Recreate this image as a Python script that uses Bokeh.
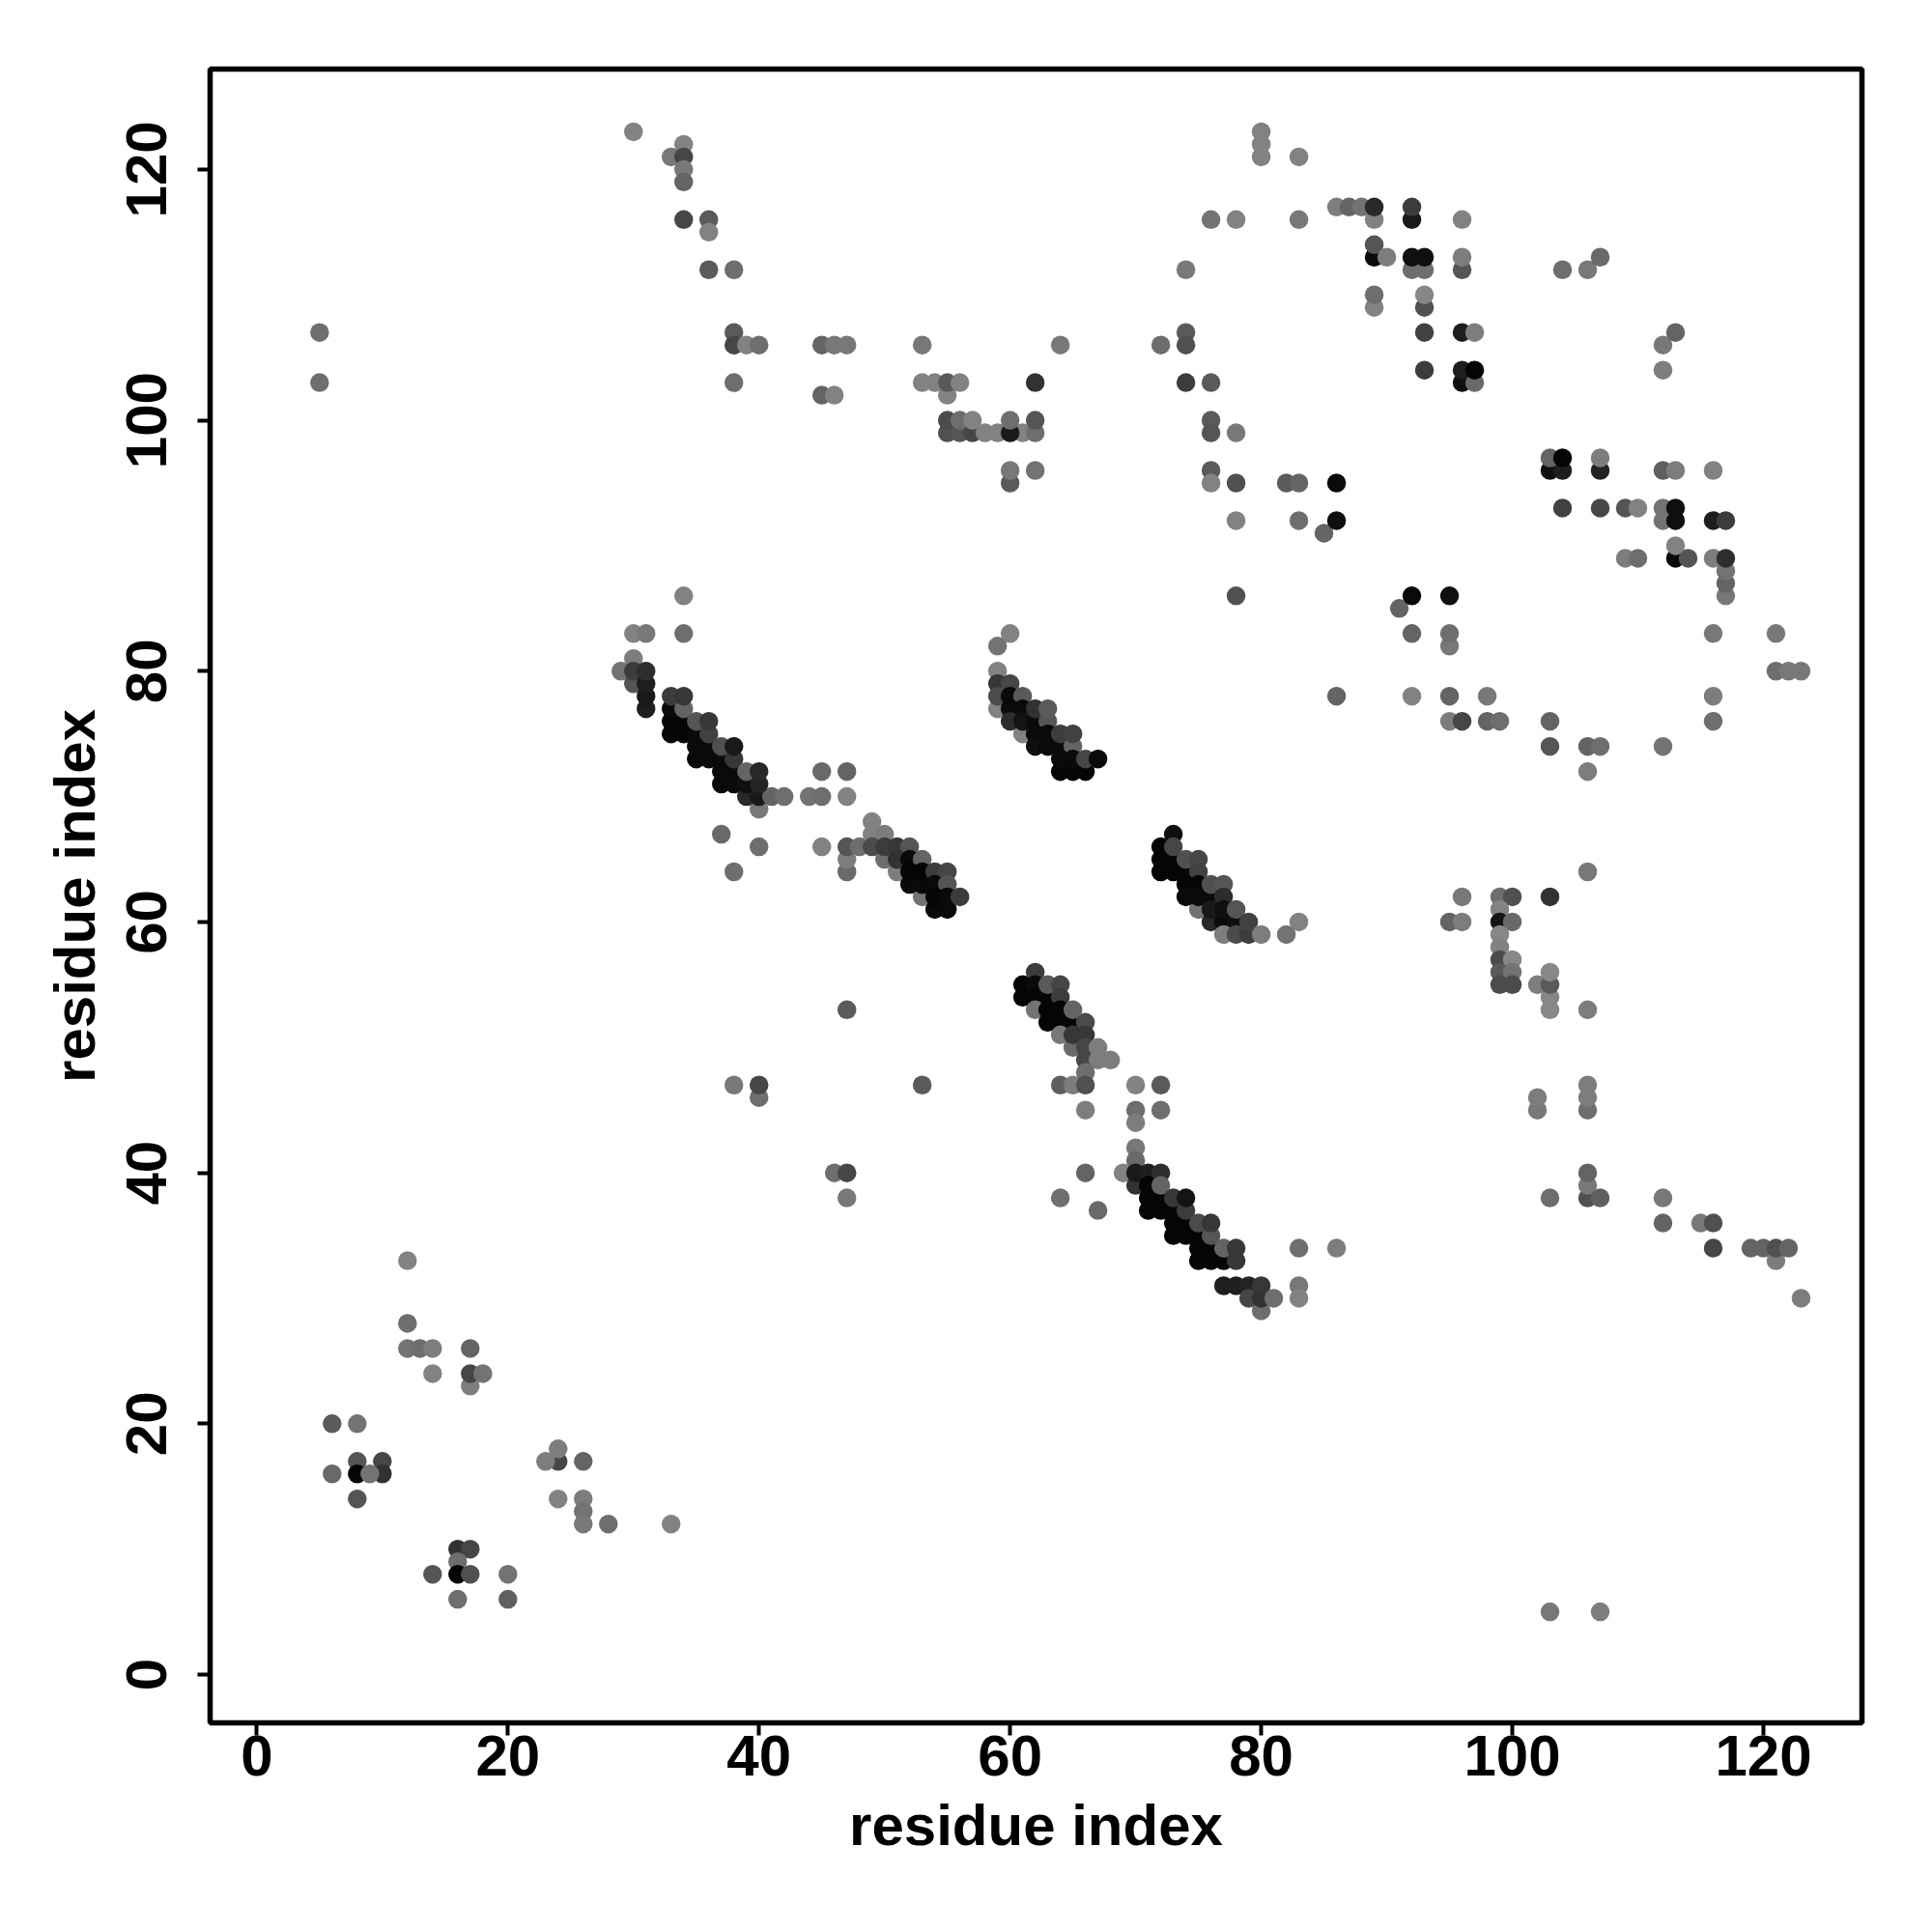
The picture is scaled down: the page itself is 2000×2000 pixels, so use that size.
from bokeh.embed import file_html
from bokeh.resources import INLINE
from bokeh.plotting import figure
from bokeh.models import Range1d, FixedTicker, ColumnDataSource

# contact points: (residue i, residue j, grey level of the mark)
upper_left = [(30,123,130),(33,121,120),(34,122,130),(34,121,70),(34,120,120),(34,119,100),(34,116,70),(36,116,90),(36,115,130),
 (36,112,90),(38,112,110),(38,107,90),(38,106,70),(39,106,130),(40,106,110),(38,103,110),(5,107,110),(5,103,110),
 (45,106,100),(46,106,120),(47,106,120),(45,102,100),(46,102,130)]
upper_mid = [(53,106,120),(53,103,130),(54,103,130),(55,102,130),(55,103,90),(56,103,130),(62,103,50),(64,106,120),
 (55,99,80),(56,99,85),(57,99,70),(58,99,130),(59,99,130),(61,99,130),(62,99,110),(60,99,25),(55,100,75),(56,100,110),(57,100,130),(60,100,110),(62,100,85),
 (60,95,90),(60,96,120),(62,96,115)]
upper_centre = [(72,106,110),(74,112,120),(74,107,90),(74,106,80),(74,103,60),(76,116,115),(78,116,130),(76,103,90),(76,100,90),(76,99,85),
 (78,99,120),(76,96,90),(76,95,130),(78,95,80),(78,92,130),(78,86,80),(82,95,90),(83,95,100),(83,92,110),(85,91,100),(86,95,10),(86,92,15),
 (80,123,130),(80,122,130),(80,121,130),(83,121,130),(83,116,120)]
upper_block = [(86,117,125),(87,117,100),(88,117,115),(89,116,130),(89,117,40),(92,116,25),(92,117,60),(96,116,130),(89,113,10),(89,114,85),(90,113,125),
 (92,112,110),(93,112,110),(92,113,15),(93,113,15),(96,112,85),(96,113,125),(89,109,130),(89,110,110),(93,109,80),(93,110,135),
 (93,107,65),(96,107,30),(97,107,125),(93,104,60),(96,103,15),(97,103,105),(96,104,30),(97,104,5)]
upper_right = [(104,112,110),(106,112,120),(107,113,105),(112,106,120),(113,107,100),(112,104,125),
 (103,96,15),(104,96,30),(103,97,100),(104,97,5),(107,96,35),(107,97,125),(112,96,95),(113,96,125),(116,96,130),
 (104,93,65),(107,93,70),(109,93,85),(110,93,130),(112,92,115),(113,92,15),(112,93,115),(113,93,15),(116,92,30),(117,92,60),
 (109,89,125),(110,89,110),(113,89,10),(114,89,85),(113,90,130),(116,89,125),(117,86,120),(117,87,100),(117,88,115),(117,89,45),
 (116,83,120),(116,78,125),(116,76,110),(112,74,115),(121,83,120),(121,80,110),(122,80,120),(123,80,120)]
mid_right = [(91,85,100),(92,86,10),(95,86,15),(92,83,100),(95,82,120),(95,83,110),(86,78,100),(92,78,130),(95,78,100),(98,78,120),
 (95,76,125),(96,76,70),(98,76,100),(99,76,110),(103,76,100),(103,74,85),(106,74,100),(107,74,110),(106,72,125)]
strip_right = [(95,60,100),(96,60,125),(96,62,120),(99,62,110),(100,62,80),(103,62,50),(99,61,130),(99,60,20),(100,60,105),(99,59,135),(99,58,130),
 (99,57,75),(100,57,135),(99,56,90),(100,56,115),(99,55,75),(100,55,75),(102,55,125),(103,53,135),(103,54,135),(103,55,90),(103,56,135),(106,53,125),(106,64,120)]
lower_right = [(106,45,110),(106,46,125),(106,47,125),(102,45,120),(102,46,125),(106,38,80),(106,39,120),(106,40,100),(107,38,95),(103,38,110),
 (112,38,120),(112,36,100),(115,36,120),(116,36,80),(116,34,70),(119,34,100),(120,34,100),(121,33,125),(121,34,80),(122,34,100),(123,30,125),(103,5,120),(107,5,125)]
mid_scatter = [(47,53,90),(38,47,120),(40,46,110),(40,47,70),(53,47,90),(46,40,110),(47,40,70),(47,38,120),(64,38,110),(66,40,100),(67,37,105)]
diag_a = [(30,83,130),(31,83,120),(34,83,110),(34,86,130),(29,80,115),(30,81,125),(30,79,85),(30,80,60),(31,77,30),(31,78,25),(31,79,30),(31,80,45),
 (33,75,5),(34,75,5),(33,76,5),(34,76,5),(33,77,10),(34,77,100),(33,78,60),(34,78,55),
 (35,73,10),(36,73,10),(35,74,10),(36,74,10),(35,75,10),(36,75,65),(35,76,85),(36,76,55),
 (37,71,10),(38,71,10),(37,72,10),(38,72,10),(37,73,10),(38,73,55),(37,74,80),(38,74,25),
 (40,69,120),(39,70,40),(40,70,25),(41,70,100),(42,70,110),(39,71,15),(40,71,35),(39,72,100),(40,72,40),
 (44,70,115),(45,70,110),(47,70,130),(45,72,105),(47,72,100),(37,67,105),(40,66,110),(45,66,130),(38,64,110)]
diag_b = [(47,64,105),(47,65,125),(47,66,85),(48,66,110),(49,68,130),(49,67,130),(50,67,125),(50,65,110),(51,64,125),(49,66,75),(50,66,60),(51,66,55),(52,66,85),
 (51,65,50),(52,65,10),(53,65,100),(53,62,115),(52,63,10),(53,63,10),(52,64,5),(53,64,5),(54,64,60),(55,64,70),(54,63,10),(55,63,85),
 (54,61,10),(55,61,10),(54,62,5),(55,62,10),(56,62,60)]
diag_c = [(60,83,130),(59,82,115),(59,80,130),(59,77,130),(59,79,55),(59,78,75),(60,79,70),(60,78,10),(61,78,90),(60,77,10),(61,77,10),(61,75,130),(60,76,45),(61,76,20),(62,76,10),
 (62,77,50),(63,76,85),(63,77,90),(62,75,10),(63,75,10),(62,74,15),(63,74,10),(64,74,10),(64,75,60),(65,74,100),(65,75,65),
 (64,72,5),(65,72,5),(66,72,5),(64,73,10),(65,73,10),(66,73,70),(67,73,10)]
diag_d = [(73,67,15),(72,66,5),(72,65,5),(73,65,5),(72,64,5),(73,64,5),(74,64,5),(73,66,70),(74,65,80),(75,65,70),(75,64,65),
 (75,61,115),(74,63,5),(75,63,5),(74,62,10),(75,62,10),(76,62,10),(76,63,80),(77,63,85),(77,62,45),
 (76,60,40),(77,60,10),(78,60,15),(76,61,25),(77,61,15),(78,61,85),(77,59,125),(78,59,75),(79,59,60),(79,60,65),(80,59,125),(82,59,115),(83,60,130)]
diag_e = [(62,56,60),(61,55,5),(62,55,10),(61,54,5),(62,54,5),(63,54,5),(62,53,115),(63,55,90),(64,55,70),(64,54,60),
 (63,53,5),(64,53,5),(63,52,5),(64,52,5),(65,52,5),(65,53,100),(64,51,120),(66,52,75),(65,50,105),(65,51,55),(66,51,55),(66,50,70),(66,49,70),(67,50,125),(67,49,125),(68,49,125),
 (64,47,95),(65,47,125),(66,48,110),(66,47,80),(66,45,125),(70,47,130),(72,47,90),(70,45,110),(72,45,110),(70,44,125)]
diag_f = [(70,42,120),(70,41,105),(69,40,130),(70,39,50),(70,40,25),(71,40,30),(72,40,45),(71,37,5),(72,37,5),(71,38,5),(72,38,5),(71,39,5),(72,39,100),
 (73,35,5),(74,35,5),(73,36,5),(74,36,5),(73,37,5),(74,37,60),(73,38,55),(74,38,20),
 (75,33,5),(76,33,5),(77,33,5),(75,34,5),(76,34,5),(75,35,5),(76,35,85),(75,36,75),(76,36,55),(77,34,100),(78,33,55),(78,34,55),
 (77,31,30),(78,31,30),(79,31,35),(80,29,110),(79,30,70),(80,30,50),(80,31,55),(81,30,110),(83,34,110),(86,34,125),(83,31,120),(83,30,130)]
lower_left = [(12,33,130),(12,28,110),(12,26,115),(13,26,110),(14,26,125),(17,26,100),(14,24,130),(17,23,125),(17,24,70),(18,24,115),
 (6,20,90),(8,20,115),(8,17,85),(10,17,70),(6,16,105),(8,16,5),(10,16,50),(9,16,115),(8,14,85),
 (24,17,70),(23,17,125),(24,18,125),(26,17,100),(24,14,130),(26,14,125),(26,13,115),(26,12,120),(28,12,110),(33,12,130),
 (16,10,50),(17,10,70),(16,9,110),(14,8,85),(16,8,5),(17,8,80),(20,8,115),(16,6,110),(20,6,95)]

x_ticks = [0, 20, 40, 60, 80, 100, 120]
y_ticks = [0, 20, 40, 60, 80, 100, 120]
x_title = "residue index"
y_title = "residue index"

clusters = [upper_left, upper_mid, upper_centre, upper_block, upper_right, mid_right, strip_right, lower_right,
            mid_scatter, diag_a, diag_b, diag_c, diag_d, diag_e, diag_f, lower_left]
points = [pt for c in clusters for pt in c]
src = ColumnDataSource(dict(
    i=[pt[0] for pt in points],
    j=[pt[1] for pt in points],
    c=["#%02x%02x%02x" % (pt[2], pt[2], pt[2]) for pt in points],
))

p = figure(width=1984, height=1984, output_backend="svg", toolbar_location=None,
           x_range=Range1d(-3.72, 127.85), y_range=Range1d(-3.85, 128.0),
           frame_width=1710, frame_height=1712,
           min_border_left=217, min_border_top=71, min_border_right=57, min_border_bottom=201,
           background_fill_color="white", border_fill_color="white")
p.grid.visible = False
p.outline_line_color = "black"
p.outline_line_width = 5.5
p.outline_line_alpha = 1

p.scatter("i", "j", source=src, size=19.5, color="c", line_color=None, marker="circle")

for ax, ticks, title in ((p.xaxis[0], x_ticks, x_title), (p.yaxis[0], y_ticks, y_title)):
    ax.ticker = FixedTicker(ticks=ticks)
    ax.axis_label = title
    ax.axis_label_text_font = "Liberation Sans"
    ax.axis_label_text_font_style = "bold"
    ax.axis_label_text_font_size = "60px"
    ax.axis_label_text_color = "black"
    ax.major_label_text_font = "Liberation Sans"
    ax.major_label_text_font_style = "bold"
    ax.major_label_text_font_size = "60px"
    ax.major_label_text_color = "black"
    ax.axis_line_color = None
    ax.major_tick_line_color = "black"
    ax.major_tick_line_width = 4
    ax.major_tick_in = 0
    ax.major_tick_out = 13
    ax.minor_tick_line_color = None

p.xaxis[0].major_label_standoff = 0
p.xaxis[0].axis_label_standoff = 15
p.yaxis[0].major_label_orientation = "vertical"
p.yaxis[0].major_label_standoff = 32
p.yaxis[0].axis_label_standoff = 18

open("out.html", "w").write(file_html(p, INLINE))
